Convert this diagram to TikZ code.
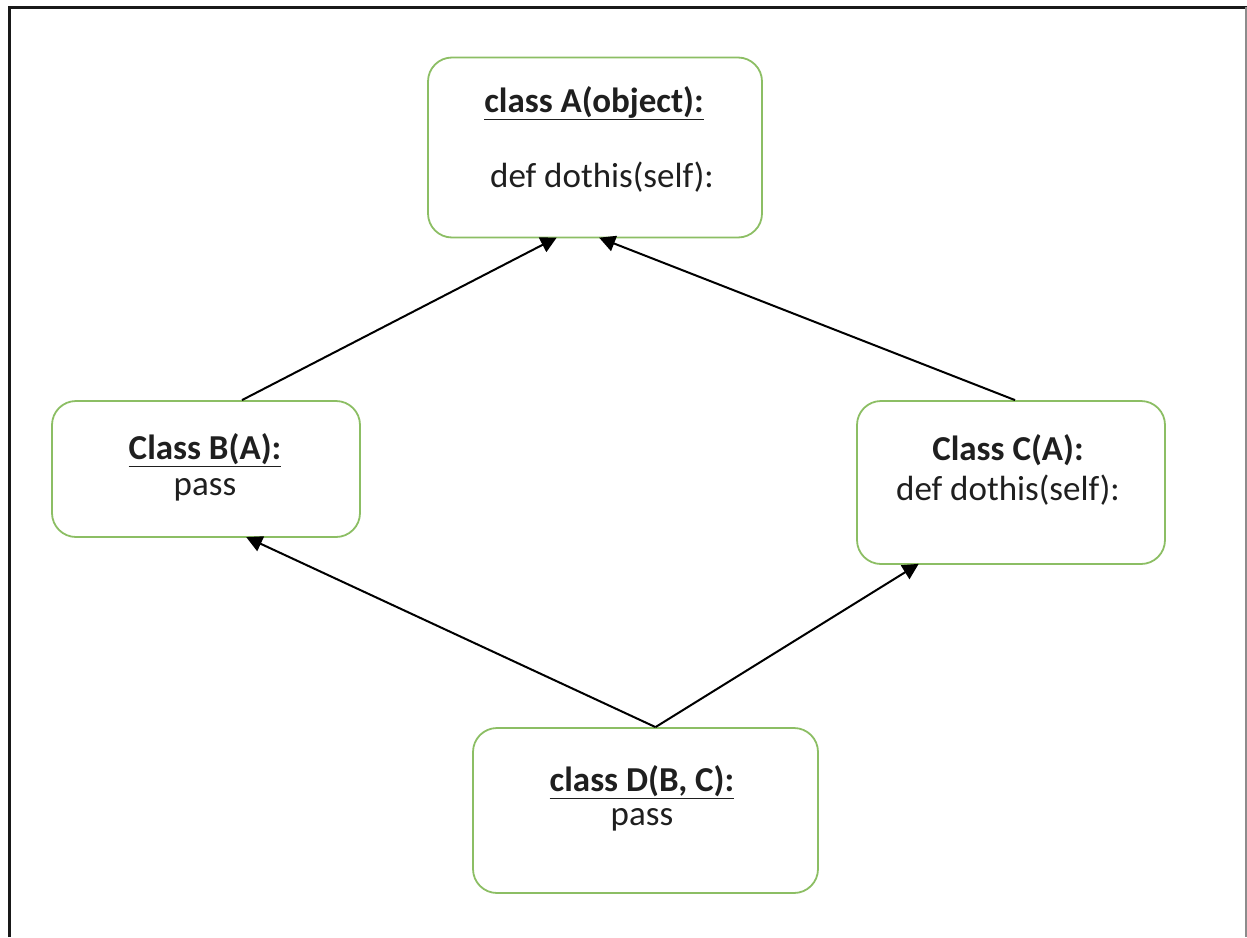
\documentclass[tikz,border=0pt]{standalone}
\usepackage{fontspec}
\setmainfont{Carlito}
\usetikzlibrary{arrows.meta}
\definecolor{boxgreen}{RGB}{140,190,100}
\newcommand{\ul}[1]{\underline{#1}}
\begin{document}
\begin{tikzpicture}[x=1pt,y=-1pt,
  cls/.style={draw=boxgreen, line width=1.8pt, rounded corners=24pt},
  txt/.style={font=\fontsize{35}{38}\selectfont, inner sep=0pt, text=black!88},
  inh/.style={line width=2pt, -{Triangle[length=16pt,width=16pt]}, shorten >=-2pt}]
\useasboundingbox (0,0) rectangle (1247,937);
% frame
\draw[line width=3pt, black!90] (9,937) -- (9,7) -- (1247,7);
\draw[line width=1.5pt, black!45] (1246,7) -- (1246,937);
% boxes
\node[cls, minimum width=334pt, minimum height=180pt] (A) at (595,147.5) {};
\node[cls, minimum width=308pt, minimum height=136pt] (B) at (206,469) {};
\node[cls, minimum width=308pt, minimum height=163pt] (C) at (1011,482.5) {};
\node[cls, minimum width=345pt, minimum height=165pt] (D) at (645.5,810.5) {};
% texts
\node[txt] (Ah) at (594,103) {\textbf{\ul{class A(object):}}};
\node[txt] (At) at (602,177) {def dothis(self):};
\node[txt] (Bh) at (205,450) {\textbf{\ul{Class B(A):}}};
\node[txt] (Bt) at (205,490) {pass};
\node[txt] (Ch) at (1008,450) {\textbf{Class C(A):}};
\node[txt] (Ct) at (1008,490) {def dothis(self):};
\node[txt] (Dh) at (642,782) {\textbf{\ul{class D(B, C):}}};
\node[txt] (Dt) at (642,820) {pass};
% connectors
\draw[inh] ([xshift=36pt]B.north) -- ([xshift=-40pt]A.south);
\draw[inh] ([xshift=4pt]C.north) -- ([xshift=6pt]A.south);
\draw[inh] ([xshift=10pt]D.north) -- ([xshift=42pt]B.south);
\draw[inh] ([xshift=10pt]D.north) -- ([xshift=-94pt]C.south);
\end{tikzpicture}
\end{document}
